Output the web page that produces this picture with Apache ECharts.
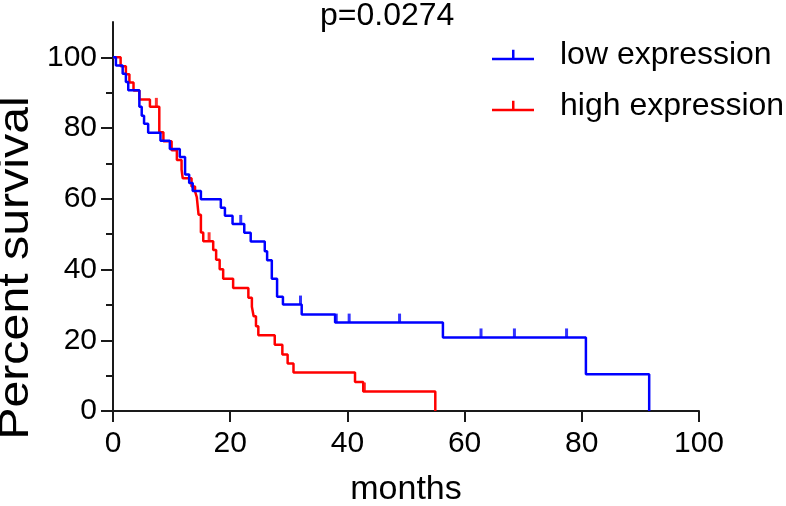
<!DOCTYPE html>
<html>
<head>
<meta charset="utf-8">
<script src="https://cdn.jsdelivr.net/npm/echarts@6/dist/echarts.min.js"></script>
<style>html,body{margin:0;padding:0;background:#fff}#c{width:786px;height:506px}</style>
</head>
<body>
<div id="c"></div>
<script>
// Kaplan-Meier step points (months, percent survival)
const lowTimes = [0, 0.5, 1.65, 2.2, 2.6, 4.5, 4.9, 5.3, 6.0, 8.1, 9.7, 11.4, 12.3, 13.0, 13.6, 15.0, 18.4, 19.1, 20.4, 22.4, 23.5, 25.9, 26.3, 27.1, 28.0, 29.0, 32.2, 37.9, 56.3, 80.7, 91.5];
const lowSurv  = [100, 97.7, 95.4, 93.0, 90.7, 86.0, 83.5, 81.2, 78.7, 76.4, 74.1, 71.8, 66.9, 64.5, 62.2, 59.9, 57.5, 55.2, 52.9, 50.4, 47.9, 45.2, 42.6, 37.4, 32.3, 30.1, 27.3, 25.0, 20.8, 10.4, 0];
const lowCensorTimes = [21.8, 32.0, 38.1, 40.3, 48.9, 62.8, 68.5, 77.4];
const lowCensorSurv  = [52.9, 30.1, 25.0, 25.0, 25.0, 20.8, 20.8, 20.8];

const highTimes = [0, 1.3, 2.2, 2.8, 3.5, 4.5, 6.3, 7.9, 8.6, 10.0, 10.9, 11.7, 11.9, 13.4, 14.0, 14.3, 14.6, 15.0, 15.4, 17.1, 17.6, 18.2, 18.8, 20.5, 23.1, 23.7, 24.0, 24.4, 24.8, 27.6, 28.9, 29.8, 30.8, 41.3, 42.7, 55.0];
const highSurv  = [100, 97.5, 95.2, 92.9, 90.6, 88.1, 86.0, 78.8, 76.3, 73.7, 71.0, 68.3, 65.8, 63.5, 62.1, 60.5, 55.5, 50.5, 48.0, 45.5, 42.8, 40.1, 37.4, 34.8, 32.0, 29.5, 26.8, 24.0, 21.4, 18.7, 16.0, 13.4, 10.9, 8.2, 5.5, 0];
const highCensorTimes = [7.4, 16.4, 42.9];
const highCensorSurv  = [86.0, 48.0, 5.5];

const xTicks = [0, 20, 40, 60, 80, 100];
const yTicks = [0, 20, 40, 60, 80, 100];
const yMinorTicks = [10, 30, 50, 70, 90];

const seriesNames = ['low expression', 'high expression'];
const pValueText = 'p=0.0274';
const xTitle = 'months';
const yTitle = 'Percent survival';

const zip = (a, b) => a.map((v, i) => [v, b[i]]);
const FONT = 'Liberation Sans, Arial, sans-serif';
const BLUE = '#0000ff', RED = '#ff0000', AXIS = '#1a1a1a';

const chart = echarts.init(document.getElementById('c'), null, {renderer: 'canvas'});
const censorStyle = (color) => ({
  type: 'scatter', symbol: 'rect', symbolSize: [3, 9], symbolOffset: [0, '-50%'],
  itemStyle: {color: color}, silent: true, z: 4
});
chart.setOption({
  animation: false,
  title: {text: pValueText, left: 320, top: 0, padding: 0,
    textStyle: {fontFamily: FONT, fontSize: 32, fontWeight: 'normal', color: '#000'}},
  legend: {
    orient: 'vertical', left: 492, top: 39, padding: 0, itemWidth: 42, itemHeight: 12, itemGap: 19,
    icon: 'path://M0,9 L42,9 L42,11.5 L0,11.5 Z M20,1 L22.5,1 L22.5,10 L20,10 Z',
    data: seriesNames,
    textStyle: {fontFamily: FONT, fontSize: 32, color: '#000', padding: [0, 0, 0, 21]}
  },
  graphic: [{
    type: 'text', x: 16, y: 268, rotation: Math.PI / 2, scaleX: 1.15,
    style: {text: yTitle, font: '42px ' + FONT, fill: '#000', textAlign: 'center', textVerticalAlign: 'middle'}
  }],
  grid: {left: 113, right: 87, top: 22, bottom: 95, outerBoundsMode: 'none'},
  xAxis: {
    type: 'value', min: 0, max: 100, interval: 20,
    name: xTitle, nameLocation: 'middle', nameGap: 62,
    nameTextStyle: {fontFamily: FONT, fontSize: 34, color: '#000'},
    axisLine: {show: true, lineStyle: {color: AXIS, width: 2}},
    axisTick: {show: true, length: 11, customValues: xTicks, lineStyle: {color: AXIS, width: 2}},
    axisLabel: {fontFamily: FONT, fontSize: 30, color: '#000', margin: 18, customValues: xTicks},
    splitLine: {show: false}
  },
  yAxis: [{
    type: 'value', min: 0, max: 110, interval: 20,
    axisLine: {show: true, lineStyle: {color: AXIS, width: 2}},
    axisTick: {show: true, length: 12, customValues: yTicks, lineStyle: {color: AXIS, width: 2}},
    axisLabel: {fontFamily: FONT, fontSize: 30, color: '#000', margin: 16, customValues: yTicks},
    splitLine: {show: false}
  }, {
    type: 'value', min: 0, max: 110, position: 'left',
    axisLine: {show: false},
    axisTick: {show: true, length: 7, customValues: yMinorTicks, lineStyle: {color: AXIS, width: 2}},
    axisLabel: {show: false},
    splitLine: {show: false}
  }],
  series: [
    {name: seriesNames[1], type: 'line', step: 'end', data: zip(highTimes, highSurv),
      showSymbol: false, lineStyle: {color: RED, width: 2.5}, itemStyle: {color: RED}, z: 2},
    {name: seriesNames[0], type: 'line', step: 'end', data: zip(lowTimes, lowSurv),
      showSymbol: false, lineStyle: {color: BLUE, width: 2.5}, itemStyle: {color: BLUE}, z: 3},
    Object.assign({name: 'high censored', data: zip(highCensorTimes, highCensorSurv)}, censorStyle(RED)),
    Object.assign({name: 'low censored', data: zip(lowCensorTimes, lowCensorSurv)}, censorStyle(BLUE))
  ]
});
</script>
</body>
</html>
